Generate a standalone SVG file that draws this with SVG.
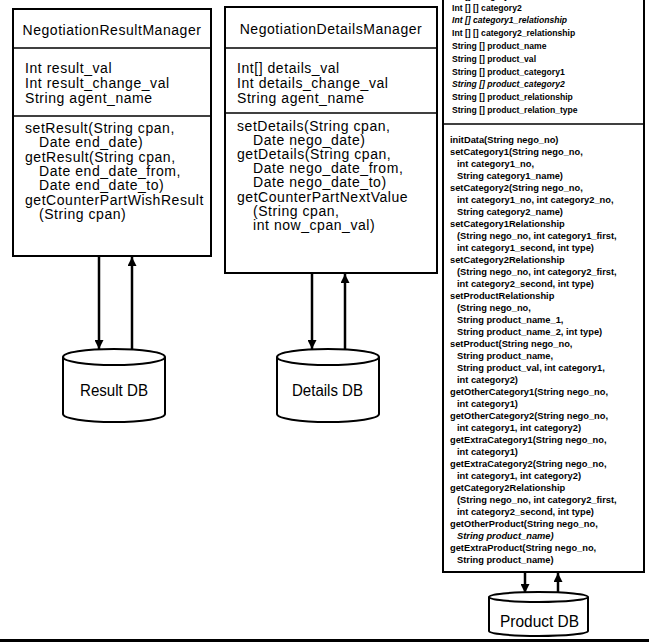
<svg xmlns="http://www.w3.org/2000/svg" width="649" height="644" viewBox="0 0 649 644">
<defs>
<style>
.box{fill:#fff;stroke:#000;stroke-width:2}
.sep{stroke:#000;stroke-width:1.6}
.t{font-family:"Liberation Sans",Arial,sans-serif;font-size:14px;letter-spacing:0.55px;fill:#000}
.s{font-family:"Liberation Sans",Arial,sans-serif;font-size:8.6px;font-weight:bold;fill:#000}
.m{font-family:"Liberation Sans",Arial,sans-serif;font-size:9.3px;font-weight:bold;fill:#000}
.i{font-style:italic}
.db{fill:#fff;stroke:#000;stroke-width:2}
.dbt{font-family:"Liberation Sans",Arial,sans-serif;font-size:16px;fill:#000}
.c{stroke:#000;stroke-width:2.5;fill:none}
</style>
<marker id="ah" viewBox="0 0 10 10" refX="10" refY="5" markerUnits="userSpaceOnUse" markerWidth="9" markerHeight="9" orient="auto">
<path d="M0,0 L10,5 L0,10 z" fill="#000"/>
</marker>
</defs>
<rect width="649" height="644" fill="#fff"/>

<g id="resultManager">
<rect class="box" x="13" y="9" width="198" height="247"/>
<line class="sep" x1="13" y1="48" x2="211" y2="48"/>
<line class="sep" x1="13" y1="116" x2="211" y2="116"/>
<text class="t" x="112" y="34.5" text-anchor="middle">NegotiationResultManager</text>
<text class="t" x="25" y="72.5">Int result_val</text>
<text class="t" x="25" y="87.5">Int result_change_val</text>
<text class="t" x="25" y="102.5">String agent_name</text>
<text class="t" x="25" y="133">setResult(String cpan,</text>
<text class="t" x="39" y="147.3">Date end_date)</text>
<text class="t" x="25" y="161.6">getResult(String cpan,</text>
<text class="t" x="39" y="175.9">Date end_date_from,</text>
<text class="t" x="39" y="190.2">Date end_date_to)</text>
<text class="t" x="25" y="204.5">getCounterPartWishResult</text>
<text class="t" x="39" y="218.8">(String cpan)</text>
</g>

<g id="detailsManager">
<rect class="box" x="225" y="7" width="212" height="266"/>
<line class="sep" x1="225" y1="48" x2="437" y2="48"/>
<line class="sep" x1="225" y1="113" x2="437" y2="113"/>
<text class="t" x="331" y="33.5" text-anchor="middle">NegotiationDetailsManager</text>
<text class="t" x="237" y="72.5">Int[] details_val</text>
<text class="t" x="237" y="87.5">Int details_change_val</text>
<text class="t" x="237" y="102.5">String agent_name</text>
<text class="t" x="237" y="131">setDetails(String cpan,</text>
<text class="t" x="253" y="145.1">Date nego_date)</text>
<text class="t" x="237" y="159.2">getDetails(String cpan,</text>
<text class="t" x="253" y="173.3">Date nego_date_from,</text>
<text class="t" x="253" y="187.4">Date nego_date_to)</text>
<text class="t" x="237" y="201.5">getCounterPartNextValue</text>
<text class="t" x="253" y="215.6">(String cpan,</text>
<text class="t" x="253" y="229.7">int now_cpan_val)</text>
</g>

<g id="productManager">
<rect class="box" x="443" y="-10" width="201" height="582"/>
<line class="sep" x1="443" y1="124" x2="644" y2="124"/>
<text class="s" x="452" y="-1.5">Int [] category1</text>
<text class="s" x="452" y="10.5">Int [] [] category2</text>
<text class="s i" x="452" y="23.3">Int [] category1_relationship</text>
<text class="s" x="452" y="36.1">Int [] [] category2_relationship</text>
<text class="s" x="452" y="48.9">String [] product_name</text>
<text class="s" x="452" y="61.7">String [] product_val</text>
<text class="s" x="452" y="74.5">String [] product_category1</text>
<text class="s i" x="452" y="87.3">String [] product_category2</text>
<text class="s" x="452" y="100.1">String [] product_relationship</text>
<text class="s" x="452" y="112.9">String [] product_relation_type</text>

<text class="m" x="450" y="143">initData(String nego_no)</text>
<text class="m" x="450" y="155">setCategory1(String nego_no,</text>
<text class="m" x="457" y="167">int category1_no,</text>
<text class="m" x="457" y="179">String category1_name)</text>
<text class="m" x="450" y="191">setCategory2(String nego_no,</text>
<text class="m" x="457" y="203">int category1_no, int category2_no,</text>
<text class="m" x="457" y="215">String category2_name)</text>
<text class="m" x="450" y="227">setCategory1Relationship</text>
<text class="m" x="457" y="239">(String nego_no, int category1_first,</text>
<text class="m" x="457" y="251">int category1_second, int type)</text>
<text class="m" x="450" y="263">setCategory2Relationship</text>
<text class="m" x="457" y="275">(String nego_no, int category2_first,</text>
<text class="m" x="457" y="287">int category2_second, int type)</text>
<text class="m" x="450" y="299">setProductRelationship</text>
<text class="m" x="457" y="311">(String nego_no,</text>
<text class="m" x="457" y="323">String product_name_1,</text>
<text class="m" x="457" y="335">String product_name_2, int type)</text>
<text class="m" x="450" y="347">setProduct(String nego_no,</text>
<text class="m" x="457" y="359">String product_name,</text>
<text class="m" x="457" y="371">String product_val, int category1,</text>
<text class="m" x="457" y="383">int category2)</text>
<text class="m" x="450" y="395">getOtherCategory1(String nego_no,</text>
<text class="m" x="457" y="407">int category1)</text>
<text class="m" x="450" y="419">getOtherCategory2(String nego_no,</text>
<text class="m" x="457" y="431">int category1, int category2)</text>
<text class="m" x="450" y="443">getExtraCategory1(String nego_no,</text>
<text class="m" x="457" y="455">int category1)</text>
<text class="m" x="450" y="467">getExtraCategory2(String nego_no,</text>
<text class="m" x="457" y="479">int category1, int category2)</text>
<text class="m" x="450" y="491">getCategory2Relationship</text>
<text class="m" x="457" y="503">(String nego_no, int category2_first,</text>
<text class="m" x="457" y="515">int category2_second, int type)</text>
<text class="m" x="450" y="527">getOtherProduct(String nego_no,</text>
<text class="m i" x="457" y="539">String product_name)</text>
<text class="m" x="450" y="551">getExtraProduct(String nego_no,</text>
<text class="m" x="457" y="563">String product_name)</text>
</g>

<g id="resultDB">
<path class="db" d="M63,357 L63,414 A51,8 0 0 0 165,414 L165,357"/>
<ellipse class="db" cx="114" cy="357" rx="51" ry="8"/>
<text class="dbt" x="80" y="395.5" textLength="68" lengthAdjust="spacingAndGlyphs">Result DB</text>
</g>

<g id="detailsDB">
<path class="db" d="M277,357 L277,414 A51,8 0 0 0 379,414 L379,357"/>
<ellipse class="db" cx="328" cy="357" rx="51" ry="8"/>
<text class="dbt" x="292" y="395.5" textLength="71" lengthAdjust="spacingAndGlyphs">Details DB</text>
</g>

<g id="productDB">
<path class="db" d="M489,597 L489,631 A49.5,5 0 0 0 588,631 L588,597"/>
<ellipse class="db" cx="538.5" cy="597" rx="49.5" ry="5"/>
<text class="dbt" x="500" y="627" textLength="79" lengthAdjust="spacingAndGlyphs">Product DB</text>
</g>

<g id="connectors">
<line class="c" x1="99" y1="256" x2="99" y2="349" marker-end="url(#ah)"/>
<line class="c" x1="132" y1="349" x2="132" y2="257" marker-end="url(#ah)"/>
<line class="c" x1="312" y1="273" x2="312" y2="349" marker-end="url(#ah)"/>
<line class="c" x1="345" y1="349" x2="345" y2="274" marker-end="url(#ah)"/>
<line class="c" x1="525" y1="572" x2="525" y2="593" marker-end="url(#ah)"/>
<line class="c" x1="558" y1="593" x2="558" y2="573" marker-end="url(#ah)"/>
</g>

<line x1="0" y1="640.5" x2="649" y2="640.5" stroke="#000" stroke-width="3"/>
</svg>
